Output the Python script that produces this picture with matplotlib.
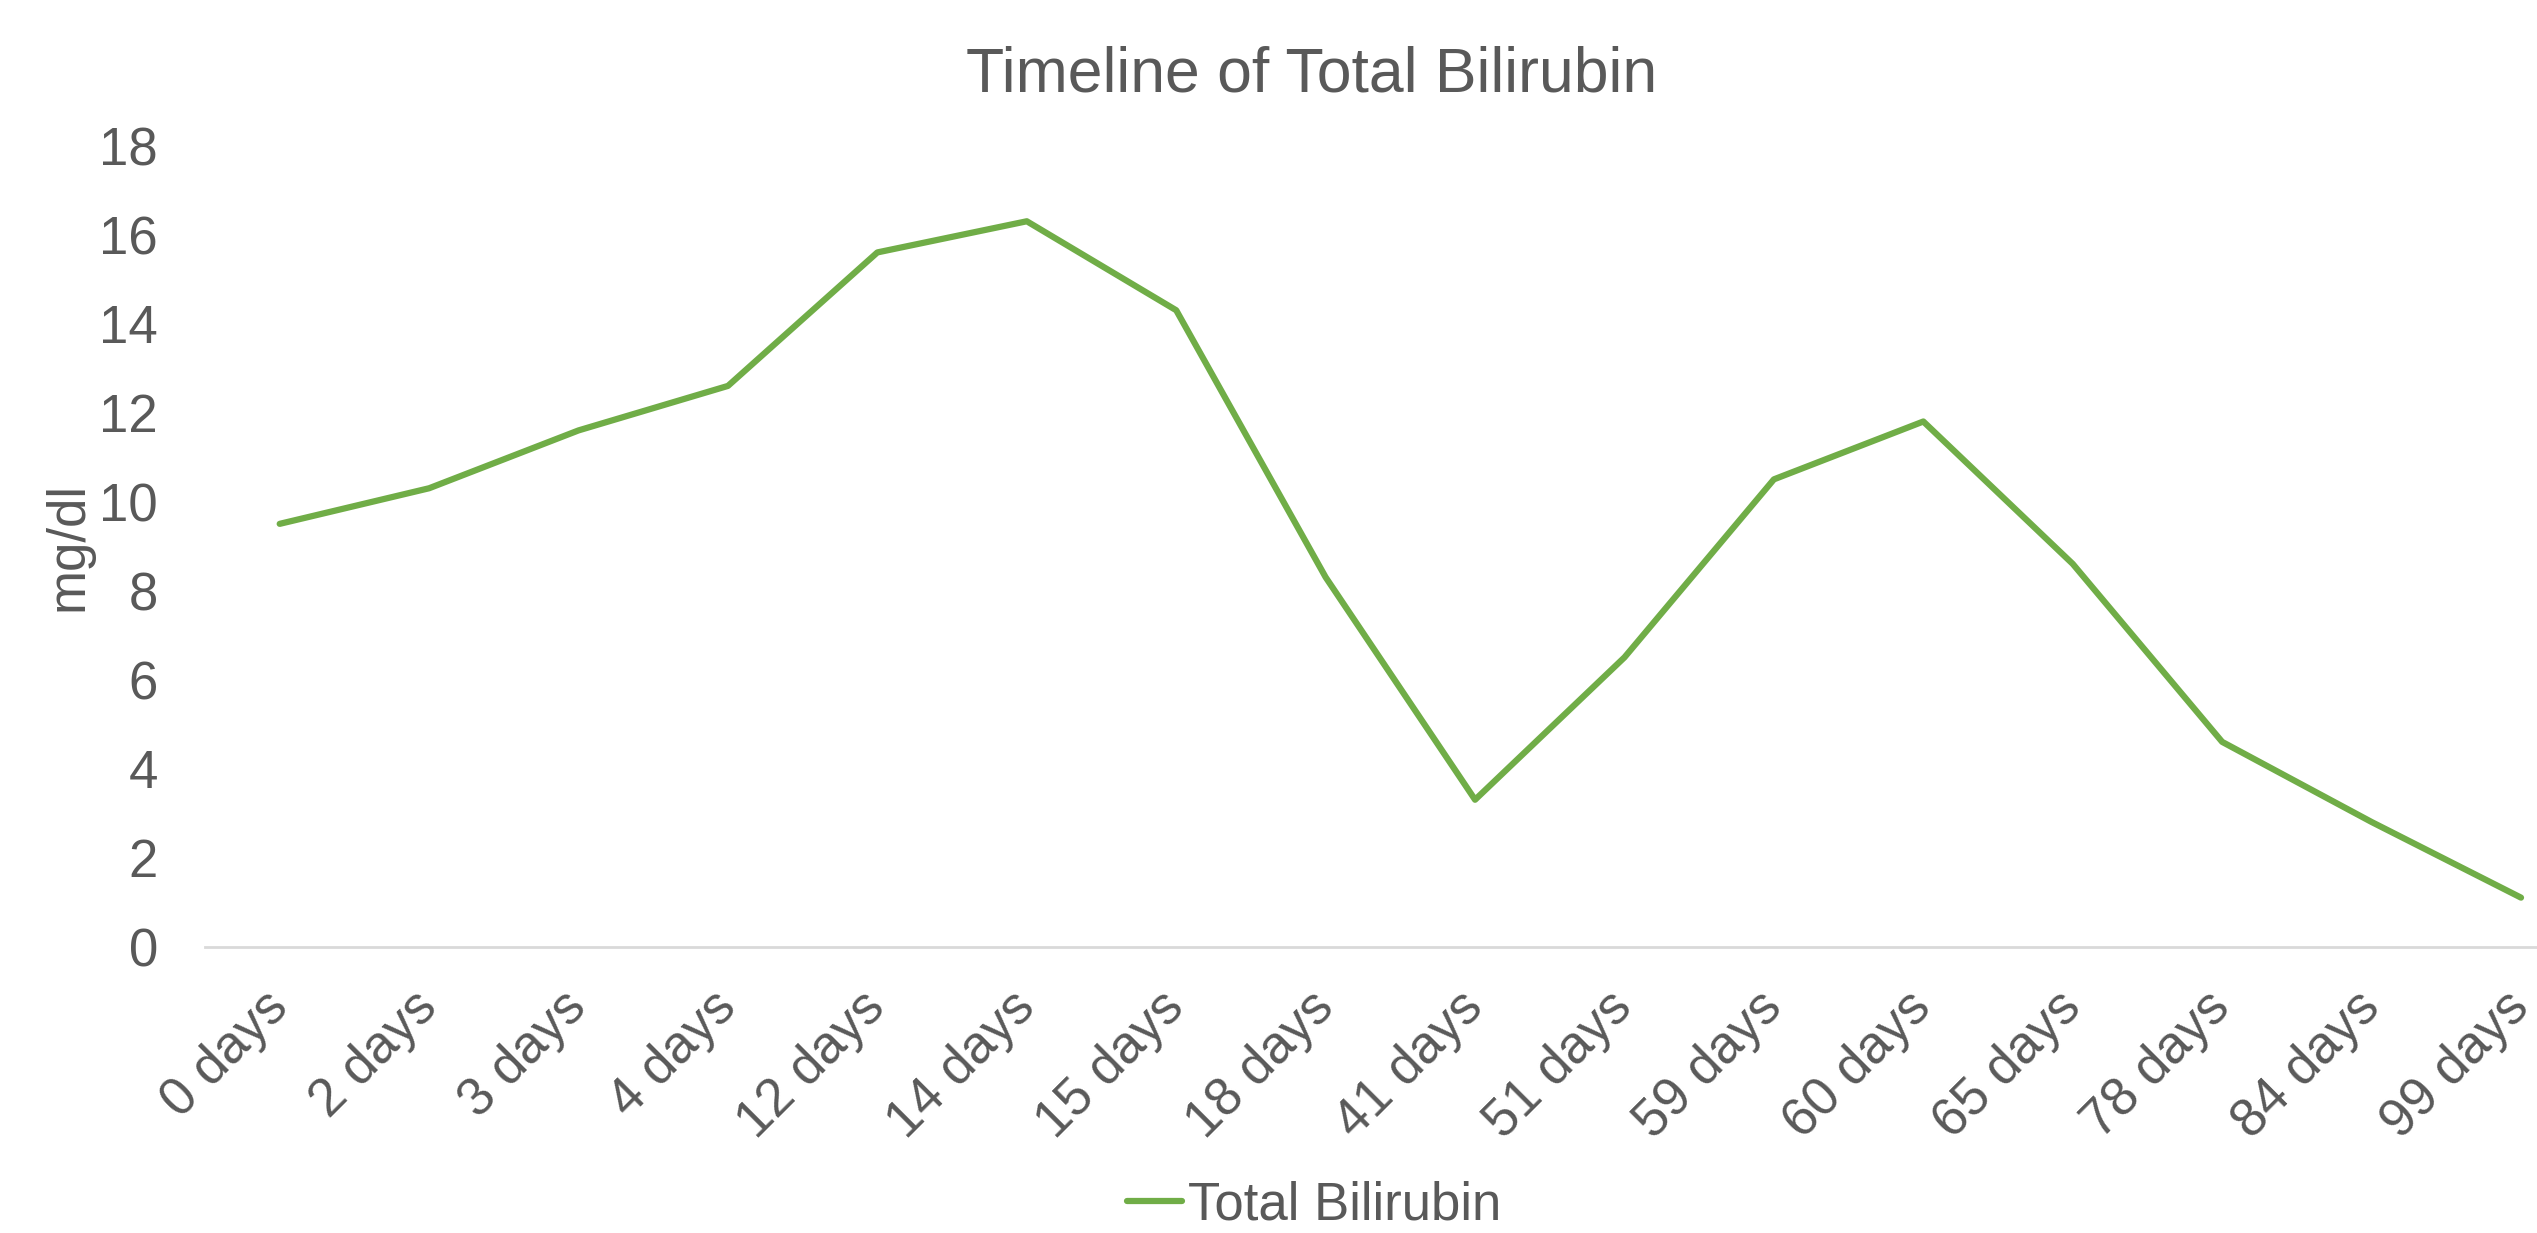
import matplotlib
matplotlib.use("Agg")
import matplotlib.pyplot as plt

categories = ["0 days", "2 days", "3 days", "4 days", "12 days", "14 days", "15 days",
              "18 days", "41 days", "51 days", "59 days", "60 days", "65 days",
              "78 days", "84 days", "99 days"]
bilirubin = [9.5, 10.3, 11.6, 12.6, 15.6, 16.3, 14.3, 8.3, 3.3, 6.5, 10.5, 11.8,
             8.6, 4.6, 2.8, 1.1]
yticks = [0, 2, 4, 6, 8, 10, 12, 14, 16, 18]

plt.rcParams['font.family'] = ['Liberation Sans', 'DejaVu Sans']
TXT = '#595959'

fig = plt.figure(figsize=(25.37, 12.33), dpi=100)
ax = fig.add_axes([0.0808, 0.2323, 1 - 0.0808, 0.8819 - 0.2323])

x = list(range(len(categories)))
ax.plot(x, bilirubin, color='#70AD47', lw=4.5, solid_joinstyle='round',
        solid_capstyle='round', label='Total Bilirubin')

ax.set_xlim(-0.5, 15.107)
ax.set_ylim(0, 18)
ax.set_yticks(yticks)
ax.set_yticklabels([str(v) for v in yticks], fontsize=38, color=TXT)
ax.set_xticks(x)
ax.set_xticklabels(categories, fontsize=38, color=TXT, rotation=45,
                   ha='right', va='center', rotation_mode='anchor')
ax.tick_params(axis='y', length=0, pad=34)
ax.tick_params(axis='x', length=0, pad=38)
for s in ['top', 'right', 'left']:
    ax.spines[s].set_visible(False)
ax.spines['bottom'].set_color('#D9D9D9')
ax.spines['bottom'].set_linewidth(2)

ax.set_ylabel('mg/dl', fontsize=38, color=TXT)
ax.yaxis.set_label_coords(-0.048, 0.5)

fig.text(0.517, 1 - 92 / 1233, 'Timeline of Total Bilirubin', fontsize=45, color=TXT,
         ha='center', va='baseline')

leg = fig.legend(loc='center', bbox_to_anchor=(0.518, 0.022), frameon=False,
                 fontsize=38, handlelength=1.04, handletextpad=0.1,
                 borderpad=0.1, labelcolor=TXT)
for h in leg.legend_handles:
    h.set_linewidth(4.5)

fig.savefig('out.png', dpi=100, facecolor='white')
